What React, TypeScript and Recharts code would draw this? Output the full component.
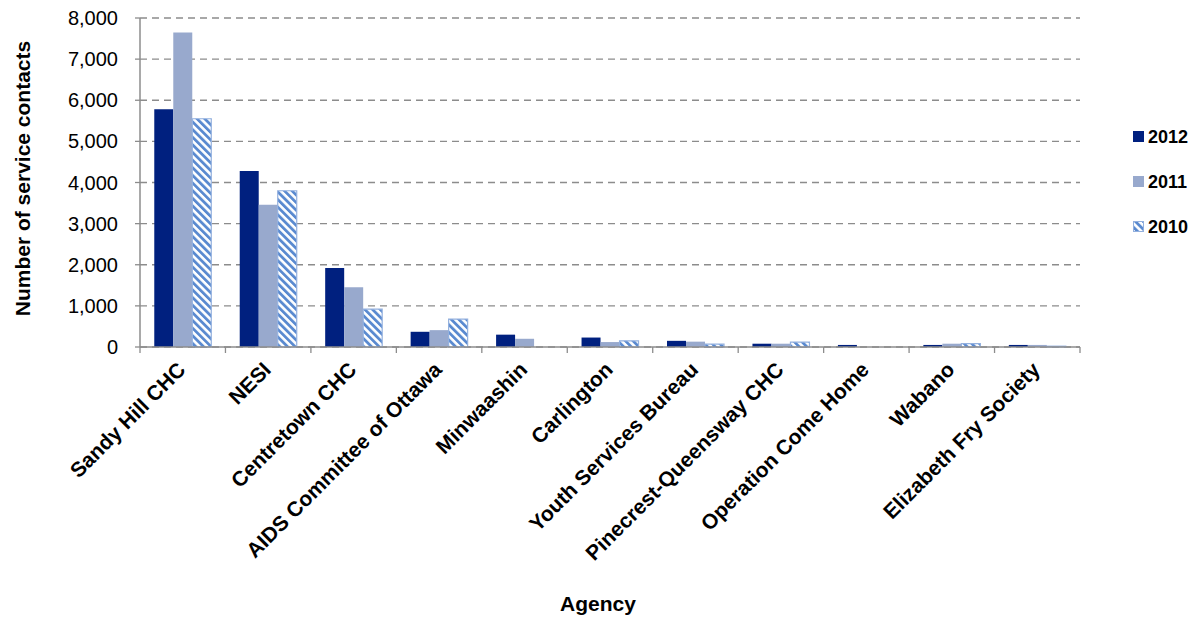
import React from "react";
import { BarChart, Bar, XAxis, YAxis, CartesianGrid, Label } from "recharts";

const categories = [
  "Sandy Hill CHC",
  "NESI",
  "Centretown CHC",
  "AIDS Committee of Ottawa",
  "Minwaashin",
  "Carlington",
  "Youth Services Bureau",
  "Pinecrest-Queensway CHC",
  "Operation Come Home",
  "Wabano",
  "Elizabeth Fry Society",
];
const values2012 = [5780, 4280, 1920, 370, 300, 230, 150, 80, 50, 50, 50];
const values2011 = [7650, 3460, 1450, 410, 200, 120, 130, 80, 0, 80, 50];
const values2010 = [5550, 3800, 920, 680, 0, 150, 70, 120, 0, 80, 20];
const seriesNames = ["2012", "2011", "2010"];
const yTicks = [0, 1000, 2000, 3000, 4000, 5000, 6000, 7000, 8000];

const data = categories.map((name, i) => ({
  name,
  v2012: values2012[i],
  v2011: values2011[i],
  v2010: values2010[i],
}));

const FONT = "'Liberation Sans', Arial, sans-serif";
const C2012 = "#00207F";
const C2011 = "#98A9CD";
const CSTRIPE = "#5A8AD0";
const CSTROKE10 = "#93B0DE";
const AXIS = "#8c8c8c";

const CatTick = (props: any) => {
  const { x, y, payload, index } = props;
  const off = payload && payload.offset ? payload.offset : 42.7;
  return (
    <g>
      <line x1={x - off} x2={x - off} y1={y} y2={y + 6} stroke={AXIS} strokeWidth={1.3} />
      {index === categories.length - 1 && (
        <line x1={x + off} x2={x + off} y1={y} y2={y + 6} stroke={AXIS} strokeWidth={1.3} />
      )}
      <g transform={`translate(${x + 4},${y + 24}) rotate(-45)`}>
        <text x={0} y={0} textAnchor="end" fontSize={21} fontWeight="bold" fill="#000" fontFamily={FONT}>
          {payload.value}
        </text>
      </g>
    </g>
  );
};

const Swatch = ({ idx }: { idx: number }) => {
  if (idx === 0) return <div style={{ width: 11, height: 11, background: C2012 }} />;
  if (idx === 1) return <div style={{ width: 11, height: 11, background: C2011 }} />;
  return (
    <svg width={11} height={11} style={{ display: "block" }}>
      <rect x={0.5} y={0.5} width={10} height={10} fill="url(#stripes2010)" stroke={CSTROKE10} strokeWidth={1} />
    </svg>
  );
};

export default function App() {
  return (
    <div style={{ position: "relative", width: 1183, height: 607, fontFamily: FONT }}>
      <svg width={0} height={0} style={{ position: "absolute" }}>
        <defs>
          <pattern id="stripes2010" patternUnits="userSpaceOnUse" width={5.4} height={5.4} patternTransform="rotate(-45)">
            <rect x={0} y={0} width={5.4} height={5.4} fill="#ffffff" />
            <rect x={0} y={0} width={2.8} height={5.4} fill={CSTRIPE} />
          </pattern>
        </defs>
      </svg>
      <BarChart
        width={1183}
        height={607}
        data={data}
        margin={{ top: 10, right: 111, left: 0, bottom: 0 }}
        barCategoryGap="16.7%"
        barGap={0}
      >
        <CartesianGrid horizontal vertical={false} stroke={AXIS} strokeDasharray="7 5" strokeWidth={1.3} />
        <XAxis
          dataKey="name"
          interval={0}
          height={268}
          tickLine={false}
          tickSize={0}
          tickMargin={0}
          axisLine={{ stroke: AXIS, strokeWidth: 1.5 }}
          tick={<CatTick />}
        >
          <Label
            content={(p: any) => {
              const vb = p.viewBox;
              return (
                <text
                  x={vb.x + vb.width / 2 - 12}
                  y={vb.y + vb.height - 4}
                  textAnchor="middle"
                  fontSize={21}
                  fontWeight="bold"
                  fill="#000"
                  fontFamily={FONT}
                >
                  Agency
                </text>
              );
            }}
          />
        </XAxis>
        <YAxis
          width={132}
          domain={[0, 8000]}
          ticks={yTicks}
          interval={0}
          tickFormatter={(v: number) => v.toLocaleString("en-US")}
          tick={{ fontSize: 20, fill: "#000", fontFamily: FONT }}
          tickSize={5}
          tickMargin={17}
          tickLine={{ stroke: AXIS, strokeWidth: 1.3 }}
          axisLine={{ stroke: AXIS, strokeWidth: 1.5 }}
        >
          <Label
            content={(p: any) => {
              const vb = p.viewBox;
              const cx = 14.5;
              const cy = vb.y + vb.height / 2 - 4;
              return (
                <text
                  x={cx}
                  y={cy}
                  transform={`rotate(-90 ${cx} ${cy})`}
                  textAnchor="middle"
                  dominantBaseline="central"
                  fontSize={21}
                  fontWeight="bold"
                  fill="#000"
                  fontFamily={FONT}
                >
                  Number of service contacts
                </text>
              );
            }}
          />
        </YAxis>
        <Bar dataKey="v2012" name={seriesNames[0]} fill={C2012} isAnimationActive={false} />
        <Bar dataKey="v2011" name={seriesNames[1]} fill={C2011} isAnimationActive={false} />
        <Bar
          dataKey="v2010"
          name={seriesNames[2]}
          fill="url(#stripes2010)"
          stroke={CSTROKE10}
          strokeWidth={1.2}
          isAnimationActive={false}
        />
      </BarChart>
      <div style={{ position: "absolute", left: 1125, top: 106, width: 80 }}>
        {seriesNames.map((s, i) => (
          <div key={s} style={{ height: 45, display: "flex", alignItems: "center" }}>
            <Swatch idx={i} />
            <span style={{ marginLeft: 4, fontSize: 18, fontWeight: "bold", color: "#000", lineHeight: "18px" }}>{s}</span>
          </div>
        ))}
      </div>
    </div>
  );
}
